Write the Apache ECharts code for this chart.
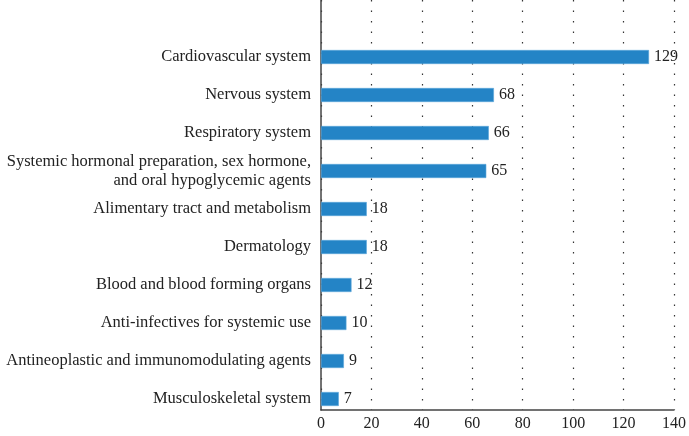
<!DOCTYPE html>
<html><head><meta charset="utf-8">
<script src="https://cdn.jsdelivr.net/npm/echarts@6/dist/echarts.min.js"></script>
<style>html,body{margin:0;padding:0;background:#fff}#c{width:689px;height:436px}</style>
</head><body><div id="c"></div>
<script>
var categories = [
  "Cardiovascular system",
  "Nervous system",
  "Respiratory system",
  "Systemic hormonal preparation, sex hormone,\nand oral hypoglycemic agents",
  "Alimentary tract and metabolism",
  "Dermatology",
  "Blood and blood forming organs",
  "Anti-infectives for systemic use",
  "Antineoplastic and immunomodulating agents",
  "Musculoskeletal system"
];
var values = [129, 68, 66, 65, 18, 18, 12, 10, 9, 7];
var xTicks = [0, 20, 40, 60, 80, 100, 120, 140];

var FONT = "Liberation Serif";
var chart = echarts.init(document.getElementById('c'), null, {renderer: 'canvas'});
chart.setOption({
  animation: false,
  backgroundColor: '#fff',
  grid: [
    {left: 321, right: 12, top: 0, bottom: 26},
    {left: 321, right: 12, top: 38, bottom: 18}
  ],
  xAxis: [
    {gridIndex: 0, type: 'value', min: xTicks[0], max: xTicks[xTicks.length-1], interval: 20,
     axisLine: {show: true, lineStyle: {color: '#444', width: 1.5}},
     axisTick: {show: false},
     axisLabel: {fontFamily: FONT, fontSize: 16, color: '#222', margin: 6},
     splitLine: {show: true, lineStyle: {color: '#333', width: 1.2, type: [1.5, 9]}}},
    {gridIndex: 1, type: 'value', min: xTicks[0], max: xTicks[xTicks.length-1], show: false,
     splitLine: {show: false}}
  ],
  yAxis: [
    {gridIndex: 0, type: 'value', min: 0, max: 1,
     axisLine: {show: true, lineStyle: {color: '#444', width: 1.5}},
     axisTick: {show: false}, axisLabel: {show: false}, splitLine: {show: false}},
    {gridIndex: 1, type: 'category', inverse: true, data: categories,
     axisLine: {show: false}, axisTick: {show: false}, splitLine: {show: false},
     axisLabel: {fontFamily: FONT, fontSize: 16.5, color: '#222', margin: 10, align: 'right', lineHeight: 19}}
  ],
  series: [{
    type: 'bar', xAxisIndex: 1, yAxisIndex: 1, data: values, barWidth: 14,
    itemStyle: {color: '#2484c6', borderColor: '#5aa6da', borderWidth: 0.6},
    label: {show: true, position: 'right', distance: 5, fontFamily: FONT, fontSize: 16, color: '#222'}
  }]
});
</script></body></html>
